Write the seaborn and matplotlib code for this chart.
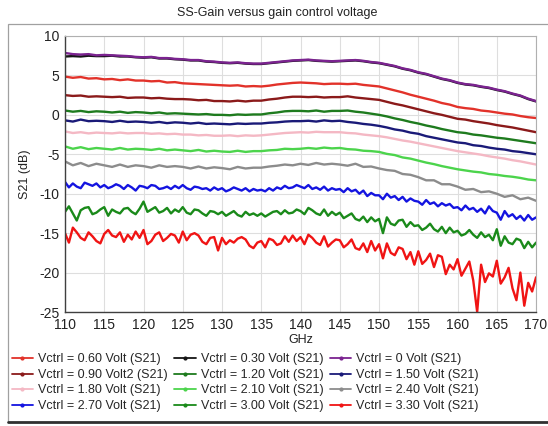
import numpy as np
import pandas as pd
import matplotlib.pyplot as plt
from matplotlib.lines import Line2D
from matplotlib.patches import Rectangle
import seaborn as sns

sns.set_style("white")
plt.rcParams["font.family"] = ["Liberation Sans", "DejaVu Sans"]
plt.rcParams["axes.unicode_minus"] = False

# frequency sweep points (GHz)
freq_1ghz = np.arange(110, 170.5, 1.0)
freq_half = np.arange(110, 170.25, 0.5)

# S21 (dB)
s21_0v = [7.85, 7.7, 7.65, 7.7, 7.55, 7.6, 7.55, 7.5, 7.45, 7.35,
          7.3, 7.35, 7.2, 7.2, 7.1, 7.05, 6.95, 6.95, 6.8, 6.75,
          6.65, 6.6, 6.65, 6.55, 6.5, 6.5, 6.6, 6.7, 6.8, 6.9,
          6.95, 7.0, 6.9, 6.85, 6.8, 6.85, 6.9, 6.95, 6.85, 6.7,
          6.6, 6.4, 6.2, 5.9, 5.7, 5.4, 5.2, 4.9, 4.6, 4.4,
          4.1, 3.9, 3.8, 3.6, 3.45, 3.2, 3.0, 2.7, 2.45, 2.05,
          1.75]
s21_030 = [7.4, 7.45, 7.4, 7.5, 7.45, 7.45, 7.5, 7.4, 7.4, 7.3,
           7.25, 7.3, 7.15, 7.15, 7.05, 7.0, 6.9, 6.9, 6.75, 6.7,
           6.6, 6.55, 6.6, 6.5, 6.45, 6.45, 6.55, 6.65, 6.75, 6.85,
           6.9, 6.95, 6.85, 6.8, 6.75, 6.8, 6.85, 6.9, 6.8, 6.65,
           6.55, 6.35, 6.15, 5.85, 5.65, 5.35, 5.15, 4.85, 4.55, 4.35,
           4.05, 3.85, 3.75, 3.55, 3.4, 3.15, 2.95, 2.65, 2.4, 2.0,
           1.7]
s21_060 = [4.85, 4.7, 4.8, 4.6, 4.65, 4.5, 4.55, 4.4, 4.5, 4.35,
           4.35, 4.25, 4.3, 4.1, 4.15, 4.0, 3.95, 3.9, 3.85, 3.8,
           3.75, 3.7, 3.75, 3.6, 3.65, 3.6, 3.7, 3.85, 3.95, 4.05,
           4.1, 4.05, 4.0, 3.9, 3.95, 3.95, 3.9, 3.95, 3.8, 3.7,
           3.6, 3.35, 3.1, 2.85, 2.55, 2.3, 2.05, 1.8, 1.5, 1.3,
           1.0, 0.85, 0.75, 0.55, 0.45, 0.3, 0.15, 0.05, -0.15, -0.3,
           -0.4]
s21_090 = [2.5, 2.4, 2.45, 2.3, 2.35, 2.3, 2.25, 2.3, 2.15, 2.2,
           2.2, 2.1, 2.15, 2.05, 2.0, 2.0, 1.95, 1.85, 1.9, 1.75,
           1.75, 1.7, 1.8, 1.7, 1.8, 1.8, 1.95, 2.05, 2.2, 2.3,
           2.3, 2.25, 2.3, 2.2, 2.25, 2.25, 2.35, 2.2, 2.1, 2.0,
           1.9, 1.65, 1.4, 1.2, 0.95, 0.7, 0.45, 0.2, 0.0, -0.25,
           -0.5, -0.6, -0.8, -0.95, -1.1, -1.3, -1.45, -1.6, -1.8, -2.0,
           -2.2]
s21_120 = [0.55, 0.4, 0.5, 0.35, 0.45, 0.4, 0.3, 0.4, 0.25, 0.35,
           0.3, 0.2, 0.3, 0.15, 0.2, 0.15, 0.1, 0.05, 0.1, 0.0,
           0.0, -0.05, 0.05, 0.0, 0.05, 0.05, 0.2, 0.3, 0.45, 0.5,
           0.5, 0.45, 0.55, 0.4, 0.5, 0.5, 0.55, 0.4, 0.3, 0.15,
           0.0, -0.2, -0.45, -0.65, -0.9, -1.1, -1.35, -1.55, -1.8, -2.0,
           -2.2, -2.3, -2.5, -2.6, -2.75, -2.9, -3.0, -3.15, -3.3, -3.45,
           -3.6]
s21_150 = [-0.7, -0.85, -0.6, -0.8, -0.75, -0.8, -0.9, -0.75, -0.9, -0.85,
           -0.9, -1.0, -0.9, -1.05, -0.95, -1.0, -1.1, -1.0, -1.15, -1.1,
           -1.15, -1.2, -1.1, -1.15, -1.1, -1.1, -1.0, -0.95, -0.85, -0.8,
           -0.8, -0.75, -0.85, -0.7, -0.8, -0.75, -0.9, -1.0, -1.15, -1.25,
           -1.4, -1.6, -1.85, -2.0, -2.25, -2.4, -2.7, -2.9, -3.1, -3.3,
           -3.5, -3.6, -3.85, -3.95, -4.15, -4.3, -4.4, -4.6, -4.7, -4.85,
           -5.0]
s21_180 = [-2.1, -2.3, -2.2, -2.35, -2.25, -2.3, -2.35, -2.25, -2.35, -2.3,
           -2.3, -2.4, -2.35, -2.45, -2.4, -2.5, -2.5, -2.6, -2.55, -2.65,
           -2.65, -2.6, -2.7, -2.6, -2.65, -2.6, -2.5, -2.4, -2.3, -2.25,
           -2.2, -2.25, -2.15, -2.2, -2.2, -2.2, -2.3, -2.35, -2.5, -2.6,
           -2.7, -2.85, -3.05, -3.25, -3.4, -3.6, -3.8, -4.0, -4.2, -4.4,
           -4.6, -4.75, -4.9, -5.05, -5.25, -5.4, -5.55, -5.75, -5.9, -6.1,
           -6.3]
s21_210 = [-4.0, -4.3, -4.1, -4.35, -4.2, -4.3, -4.4, -4.2, -4.4, -4.3,
           -4.35, -4.45, -4.3, -4.5, -4.4, -4.5, -4.6, -4.45, -4.65, -4.55,
           -4.65, -4.7, -4.55, -4.7, -4.6, -4.6, -4.5, -4.45, -4.3, -4.35,
           -4.3, -4.2, -4.3, -4.15, -4.25, -4.2, -4.35, -4.4, -4.55, -4.6,
           -4.7, -4.95, -5.1, -5.4, -5.55, -5.8, -6.05, -6.25, -6.5, -6.7,
           -6.9, -7.05, -7.2, -7.3, -7.5, -7.6, -7.75, -7.85, -8.0, -8.2,
           -8.3]
s21_240 = [-5.9, -6.4, -6.1, -6.5, -6.2, -6.4, -6.6, -6.3, -6.6, -6.4,
           -6.5, -6.7, -6.4, -6.6, -6.5, -6.6, -6.8, -6.55, -6.8, -6.65,
           -6.75, -6.9, -6.6, -6.8, -6.7, -6.7, -6.55, -6.45, -6.3, -6.4,
           -6.2, -6.35, -6.1, -6.3, -6.2, -6.3, -6.45, -6.2, -6.6, -6.55,
           -6.8, -7.0, -7.1, -7.5, -7.6, -7.9, -8.3, -8.3, -8.8, -8.8,
           -9.1, -9.5, -9.4, -9.8, -9.7, -10.0, -10.4, -10.2, -10.7, -10.5,
           -10.9]
s21_270 = [-8.5, -9.2, -8.7, -9.1, -9.3, -8.6, -8.8, -9.0, -8.7, -9.2,
           -8.9, -9.3, -9.1, -8.8, -9.0, -9.4, -8.9, -9.2, -9.6, -9.0,
           -9.1, -9.3, -8.9, -9.0, -9.4, -9.3, -9.1, -9.4, -9.0, -9.3,
           -8.9, -9.3, -9.5, -9.1, -9.2, -9.4, -9.3, -9.6, -9.2, -9.5,
           -9.3, -9.7, -9.5, -9.2, -9.4, -9.6, -9.3, -9.7, -9.4, -9.6,
           -9.5, -9.7, -9.3, -9.6, -9.2, -9.4, -9.0, -9.3, -9.2, -8.9,
           -9.1, -9.3, -8.9, -9.4, -9.2, -9.5, -9.1, -9.6, -9.3, -9.5,
           -9.4, -9.8, -9.3, -9.7, -9.5, -10.0, -9.6, -10.3, -9.9, -10.2,
           -10.2, -10.7, -10.0, -10.5, -10.3, -10.8, -10.4, -11.0, -10.6, -10.9,
           -11.0, -11.4, -10.8, -11.3, -11.1, -11.6, -11.2, -11.5, -11.3, -11.8,
           -11.7, -12.1, -11.5, -12.0, -11.8, -12.3, -11.9, -12.5, -11.6, -12.2,
           -12.4, -13.3, -12.2, -12.9, -12.6, -13.2, -12.8, -13.4, -12.7, -13.3,
           -13.0]
s21_300 = [-12.3, -11.6, -12.5, -13.4, -12.1, -11.8, -11.7, -12.6, -12.4, -12.0,
           -11.7, -12.8, -12.0, -12.3, -12.5, -11.9, -11.8, -12.3, -12.6, -11.9,
           -11.0, -12.3, -12.0, -11.7, -12.4, -12.2, -11.8, -12.5, -12.0, -12.3,
           -11.7, -12.4, -12.6, -12.0, -12.1, -12.5, -12.8, -12.2, -12.3, -12.6,
           -12.3, -12.8, -12.5, -12.2, -12.7, -12.9, -12.3, -12.7, -12.5, -12.8,
           -12.5, -12.9, -12.6, -12.3, -12.2, -12.6, -12.1, -12.5, -12.4, -12.0,
           -12.2, -12.6, -11.8, -12.1, -12.5, -12.7, -12.0, -12.8, -12.3, -12.7,
           -12.4, -13.1, -12.8, -12.5, -13.2, -13.4, -12.9, -13.6, -13.0, -13.5,
           -13.2, -15.0, -13.0, -13.8, -14.0, -13.4, -13.3, -14.2, -13.6, -14.1,
           -14.0, -14.6, -14.3, -13.8, -14.5, -14.8, -14.2, -15.0, -14.3, -14.9,
           -14.7, -15.3, -15.1, -14.6, -15.2, -15.6, -14.9, -15.5, -15.2, -15.9,
           -14.5, -16.6, -15.4, -16.2, -16.4, -15.7, -15.9, -16.9, -16.1, -16.8,
           -16.2]
s21_330 = [-15.0, -16.2, -14.3, -14.9, -15.6, -15.9, -14.9, -15.4, -16.0, -16.3,
           -15.1, -14.6, -15.3, -15.5, -14.9, -16.1, -15.2, -15.8, -14.8, -15.6,
           -14.6, -16.4, -16.0, -15.2, -14.9, -16.0, -15.6, -15.1, -15.3, -16.2,
           -14.8, -15.9, -15.2, -15.0, -15.3, -16.1, -16.4, -15.6, -15.5, -17.2,
           -15.6, -16.4, -15.9, -16.2, -15.7, -15.5, -15.8, -16.6, -16.9, -16.2,
           -16.0, -16.8, -15.7, -15.9, -16.5, -16.3, -15.4, -16.1, -15.3, -16.0,
           -15.5, -16.4, -15.2, -15.6, -16.2, -16.5, -15.4, -16.7, -16.2, -15.8,
           -15.9, -16.8, -16.4, -15.8, -16.9, -17.1, -16.3, -17.4, -16.0, -17.2,
           -16.4, -18.2, -16.3, -17.5, -17.8, -16.8, -17.0, -18.3, -17.4, -19.0,
           -17.3, -18.9, -18.4, -17.6, -19.3, -17.8, -18.0, -20.2, -19.0, -19.6,
           -18.3, -20.4, -19.5, -18.6, -21.0, -25.0, -19.0, -21.2, -20.1, -20.5,
           -18.5, -21.4, -20.6, -19.4, -22.0, -23.5, -20.0, -24.2, -21.3, -22.4,
           -20.6]

labels = ["Vctrl = 0.30 Volt (S21)", "Vctrl = 0 Volt (S21)",
          "Vctrl = 0.60 Volt (S21)", "Vctrl = 0.90 Volt2 (S21)",
          "Vctrl = 1.20 Volt (S21)", "Vctrl = 1.50 Volt (S21)",
          "Vctrl = 1.80 Volt (S21)", "Vctrl = 2.10 Volt (S21)",
          "Vctrl = 2.40 Volt (S21)", "Vctrl = 2.70 Volt (S21)",
          "Vctrl = 3.00 Volt (S21)", "Vctrl = 3.30 Volt (S21)"]
series = [s21_030, s21_0v, s21_060, s21_090, s21_120, s21_150,
          s21_180, s21_210, s21_240, s21_270, s21_300, s21_330]
colors = ["#151515", "#7b2390", "#e2322a", "#8b1a1a", "#1e7b1e", "#1a1a78",
          "#f4b8c4", "#4cd44c", "#8c8c8c", "#1414e0", "#1a8a1a", "#f01414"]

frames = []
for lab, vals in zip(labels, series):
    f = freq_1ghz if len(vals) == len(freq_1ghz) else freq_half
    frames.append(pd.DataFrame({"GHz": f, "S21": vals, "trace": lab}))
df = pd.concat(frames, ignore_index=True)
palette = dict(zip(labels, colors))

fig = plt.figure(figsize=(5.48, 4.26), dpi=100)
ax = fig.add_axes([0.1186, 0.2676, 0.8596, 0.6479])

sns.lineplot(data=df, x="GHz", y="S21", hue="trace", hue_order=labels,
             palette=palette, estimator=None, sort=False, linewidth=1.7,
             legend=False, ax=ax)

ax.set_xlim(110, 170)
ax.set_ylim(-25, 10)
ax.set_xticks(np.arange(110, 171, 5))
ax.set_yticks(np.arange(-25, 11, 5))
ax.grid(True, color="#dedede", linewidth=0.8)
ax.tick_params(length=0, pad=4, labelsize=10, labelcolor="#222222")
ax.set_xlabel("GHz", fontsize=9, color="#222222", labelpad=2)
ax.set_ylabel("S21 (dB)", fontsize=9, color="#222222", labelpad=6)
for side in ["left", "bottom"]:
    ax.spines[side].set_color("#404040")
    ax.spines[side].set_linewidth(1.0)
for side in ["top", "right"]:
    ax.spines[side].set_color("#b0b0b0")
    ax.spines[side].set_linewidth(0.8)

fig.text(0.505, 0.97, "SS-Gain versus gain control voltage",
         ha="center", va="center", fontsize=9, color="#222222")

# outer frame like the original screenshot
fig.patches.append(Rectangle((8 / 548, 1 - 422 / 426), 0.99, (422 - 24) / 426,
                             transform=fig.transFigure, fill=False,
                             edgecolor="#a0a0a0", linewidth=0.9))
fig.lines.append(Line2D([8 / 548, 1.0], [1 - 422 / 426, 1 - 422 / 426],
                        transform=fig.transFigure, color="#303030", linewidth=2))

# legend, row-major like the original
order = ["Vctrl = 0.60 Volt (S21)", "Vctrl = 0.90 Volt2 (S21)",
         "Vctrl = 1.80 Volt (S21)", "Vctrl = 2.70 Volt (S21)",
         "Vctrl = 0.30 Volt (S21)", "Vctrl = 1.20 Volt (S21)",
         "Vctrl = 2.10 Volt (S21)", "Vctrl = 3.00 Volt (S21)",
         "Vctrl = 0 Volt (S21)", "Vctrl = 1.50 Volt (S21)",
         "Vctrl = 2.40 Volt (S21)", "Vctrl = 3.30 Volt (S21)"]
handles = [Line2D([0], [0], color=palette[k], linewidth=1.3, marker="o",
                  markersize=2) for k in order]
fig.legend(handles, order, ncol=3, loc="upper left",
           bbox_to_anchor=(0.012, 0.182), frameon=False, fontsize=9,
           handlelength=1.7, handletextpad=0.4, columnspacing=0.55,
           labelspacing=0.28, borderaxespad=0)

fig.savefig("out.png", dpi=100)
